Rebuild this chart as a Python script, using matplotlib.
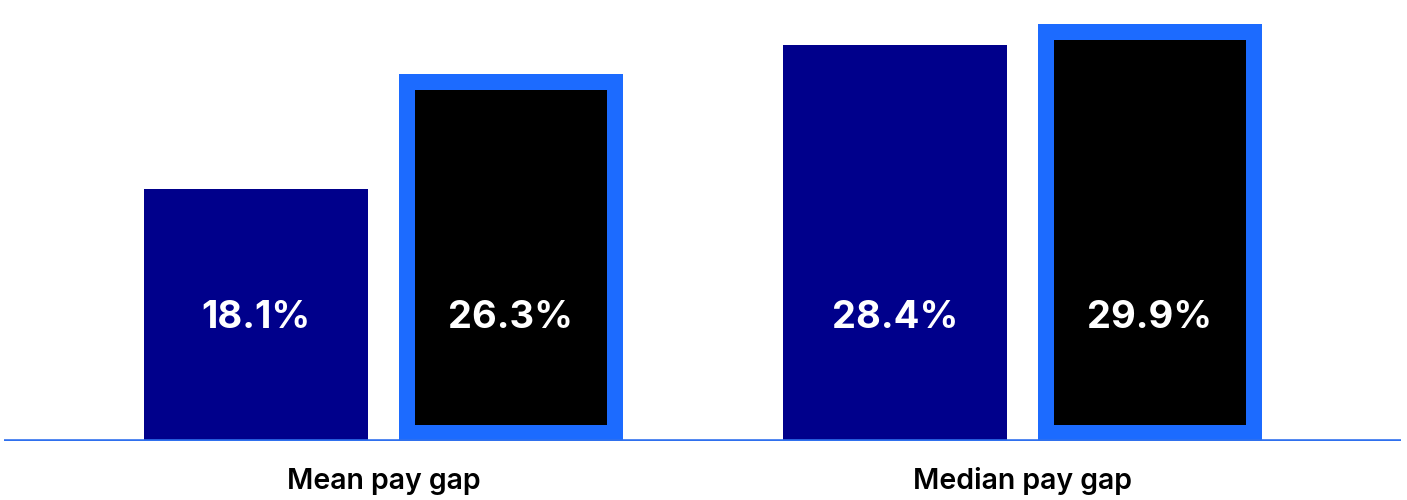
import matplotlib.pyplot as plt
import matplotlib.transforms as mtransforms
import numpy as np

categories = ["Mean pay gap", "Median pay gap"]
first_vals = [18.1, 28.4]
second_vals = [26.3, 29.9]

NAVY = "#00008b"
BLUE = "#1c6bff"
LINE = "#2f70ee"

plt.rcParams['font.family'] = ['Inter', 'DejaVu Sans']

fig = plt.figure(figsize=(14.07, 5), dpi=100)
W, H = 1407, 500
base_px = 441
ax = fig.add_axes([4 / W, (H - base_px) / H, (1401 - 4) / W, base_px / H])

group_px = 639.0
center0 = 383.5
ax.set_xlim((4 - center0) / group_px, (1401 - center0) / group_px)
px_per_unit = 13.95
ax.set_ylim(0, base_px / px_per_unit)

x = np.arange(len(categories))
off = 127.5 / group_px
width = 224 / group_px

ax.bar(x - off, first_vals, width, color=NAVY, linewidth=0)
bars = ax.bar(x + off, second_vals, width, color="black", edgecolor=BLUE,
              linewidth=32 * 72 / 100)
for b in bars:
    b.set_clip_path(b)

ax.axhline(0, color=LINE, linewidth=2.6, zorder=5)

lab_y = (base_px - 318) / base_px
trans = mtransforms.blended_transform_factory(ax.transData, ax.transAxes)
for xi, v in zip(x - off, first_vals):
    ax.text(xi, lab_y, f"{v}%", transform=trans, ha="center", va="center",
            color="white", fontsize=27.5, fontweight="bold")
for xi, v in zip(x + off, second_vals):
    ax.text(xi, lab_y, f"{v}%", transform=trans, ha="center", va="center",
            color="white", fontsize=27.5, fontweight="bold")

cat_y = -(489 - base_px) / base_px
for xi, c in zip(x, categories):
    ax.text(xi, cat_y, c, transform=trans, ha="center", va="baseline",
            color="black", fontsize=20.5, fontweight="semibold")

ax.axis("off")

fig.savefig("out.png", dpi=100)
